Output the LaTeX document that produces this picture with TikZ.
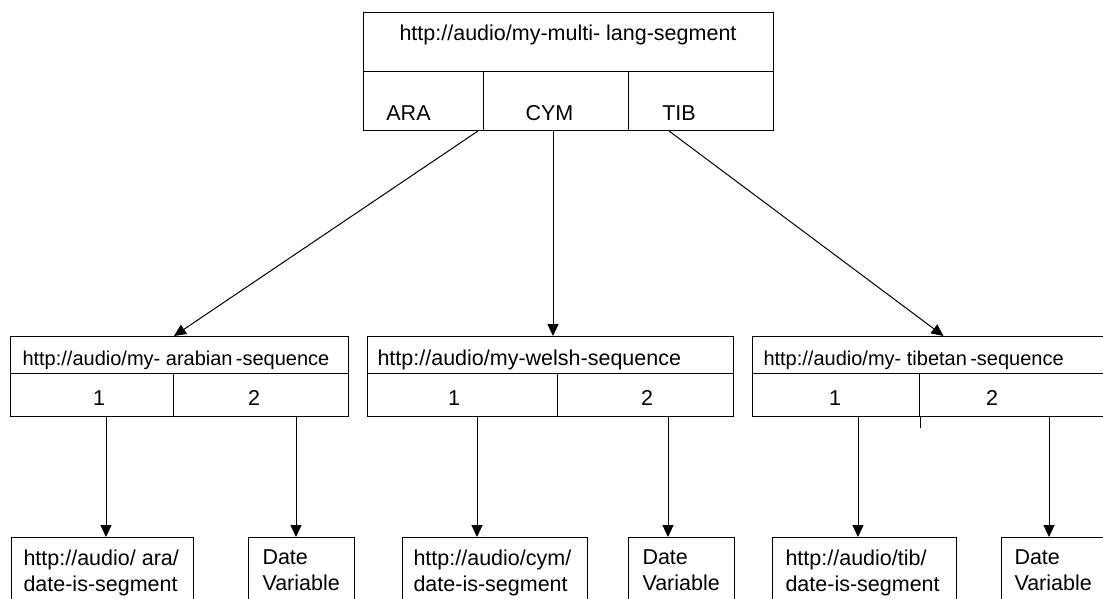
\documentclass[tikz,border=0pt]{standalone}
\usepackage{fontspec}
\setmainfont{Liberation Sans}
\usetikzlibrary{positioning}
\usetikzlibrary{calc}
\usetikzlibrary{arrows.meta}

\begin{document}
\begin{tikzpicture}[x=1pt, y=-1pt, line width=1pt,
		every node/.style={font=\fontsize{21.5}{26}\selectfont, inner sep=0pt},
		cell/.style={draw, anchor=north west},
		small/.style={font=\fontsize{20}{24}\selectfont},
		arr/.style={-{Triangle[length=12pt, width=11pt]}}]
				\useasboundingbox (0,0) rectangle (1103,598);
				\clip (0,0) rectangle (1103,598);
				% top segment
				\node[cell, minimum width=410, minimum height=59] (multi) at (363,12) {};
				\node[cell, minimum width=120, minimum height=59] (ara) at (363,71) {};
				\node[cell, minimum width=145, minimum height=59] (cym) at (483,71) {};
				\node[cell, minimum width=145, minimum height=59] (tib) at (628,71) {};
				\node[anchor=base] (multitxt) at (568,40) {http://audio/my-multi- lang-segment};
				\node[anchor=base] (aratxt) at (408.5,120) {ARA};
				\node[anchor=base] (cymtxt) at (549.5,120) {CYM};
				\node[anchor=base] (tibtxt) at (679,120) {TIB};
				% sequences
				\node[cell, minimum width=338, minimum height=37] (araseq) at (10,336) {};
				\node[cell, minimum width=163, minimum height=43] (ara1) at (10,373) {};
				\node[cell, minimum width=175, minimum height=43] (ara2) at (173,373) {};
				\node[cell, minimum width=366, minimum height=37] (cymseq) at (367,336) {};
				\node[cell, minimum width=190, minimum height=43] (cym1) at (367,373) {};
				\node[cell, minimum width=176, minimum height=43] (cym2) at (557,373) {};
				\node[cell, minimum width=382, minimum height=37] (tibseq) at (752,336) {};
				\node[cell, minimum width=167, minimum height=43] (tib1) at (752,373) {};
				\node[cell, minimum width=215, minimum height=43] (tib2) at (919,373) {};
				\draw (tib1.south east) -- ++(0,11);
				\node[small, anchor=base west] (araseqtxt) at (22,365) {http://audio/my- arabian\,-sequence};
				\node[anchor=base west] (cymseqtxt) at (377,365) {http://audio/my-welsh-sequence};
				\node[small, anchor=base west] (tibseqtxt) at (763,365) {http://audio/my- tibetan\,-sequence};
				\node[anchor=base] at (99,405) {1};
				\node[anchor=base] at (254,405) {2};
				\node[anchor=base] at (454,405) {1};
				\node[anchor=base] at (647,405) {2};
				\node[anchor=base] at (835,405) {1};
				\node[anchor=base] at (992,405) {2};
				% date segments
				\node[cell, minimum width=182, minimum height=80] (aradate) at (11,537) {};
				\node[cell, minimum width=106, minimum height=80] (aravar) at (248,537) {};
				\node[cell, minimum width=185, minimum height=80] (cymdate) at (402,537) {};
				\node[cell, minimum width=106, minimum height=80] (cymvar) at (628,537) {};
				\node[cell, minimum width=184, minimum height=80] (tibdate) at (772,537) {};
				\node[cell, minimum width=120, minimum height=80] (tibvar) at (1001,537) {};
				\node[anchor=north west, align=left] at (23,549.5) {http://audio/ ara/\\date-is-segment};
				\node[anchor=north west, align=left] at (262,549.5) {Date\\Variable};
				\node[anchor=north west, align=left] at (413,549.5) {http://audio/cym/\\date-is-segment};
				\node[anchor=north west, align=left] at (642,549.5) {Date\\Variable};
				\node[anchor=north west, align=left] at (785,549.5) {http://audio/tib/\\date-is-segment};
				\node[anchor=north west, align=left] at (1014,549.5) {Date\\Variable};
				% connectors
				\draw[arr] ($(ara.south east)+(-6,0)$) -- (araseq.north -| ara1.east);
				\draw[arr] (553,0 |- cym.south) -- (553,0 |- cymseq.north);
				\draw[arr] ($(tib.south)+(-32,0)$) -- (tibseq.north);
				\draw[arr] (106,0 |- ara1.south) -- (106,0 |- aradate.north);
				\draw[arr] (296,0 |- ara2.south) -- (296,0 |- aravar.north);
				\draw[arr] (477,0 |- cym1.south) -- (477,0 |- cymdate.north);
				\draw[arr] (668,0 |- cym2.south) -- (668,0 |- cymvar.north);
				\draw[arr] (858,0 |- tib1.south) -- (858,0 |- tibdate.north);
				\draw[arr] (1049,0 |- tib2.south) -- (1049,0 |- tibvar.north);
		    \end{tikzpicture}
\end{document}
